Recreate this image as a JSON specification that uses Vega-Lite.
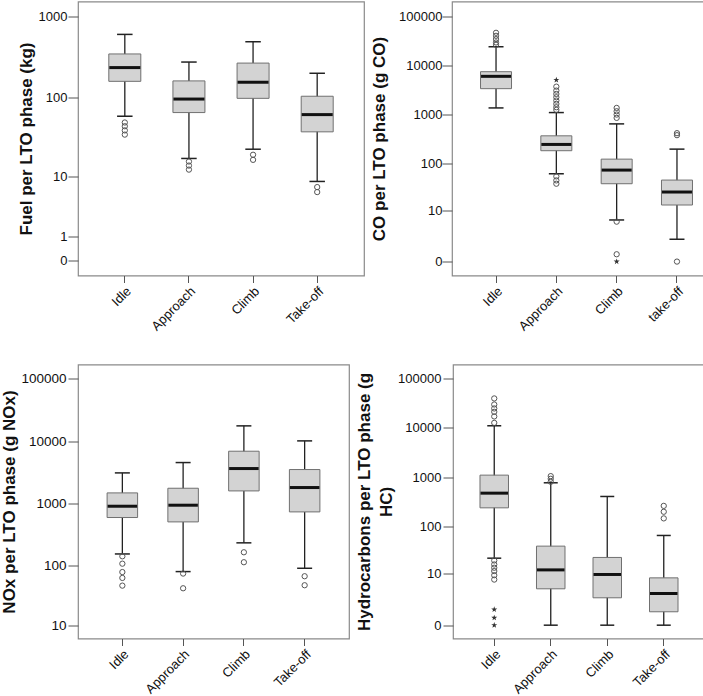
{
  "$schema": "https://vega.github.io/schema/vega-lite/v6.json",
  "padding": {"left": 0, "top": 0.5, "right": 0, "bottom": 0},
  "config": {
    "font": "Liberation Sans",
    "view": {"stroke": "#8a8a8a", "strokeWidth": 1.2},
    "axis": {"labelFontSize": 13, "titleFontSize": 17, "titleFontWeight": "bold", "labelColor": "#111", "titleColor": "#111", "tickColor": "#555", "grid": false, "domain": false},
    "axisY": {"tickSize": 10, "labelPadding": 1, "titlePadding": 3},
    "axisX": {"tickSize": 7, "labelPadding": 2, "labelAngle": -45},
    "tick": {"opacity": 1},
    "point": {"opacity": 1}
  },
  "datasets": {
    "boxes": [
      {"p": "fuel", "phase": "Idle", "lo": 58.7, "q1": 159, "med": 235, "q3": 346, "hi": 602},
      {"p": "fuel", "phase": "Approach", "lo": 17.1, "q1": 65.2, "med": 96, "q3": 161, "hi": 275},
      {"p": "fuel", "phase": "Climb", "lo": 22.5, "q1": 98, "med": 155, "q3": 267, "hi": 489},
      {"p": "fuel", "phase": "Take-off", "lo": 8.45, "q1": 37.4, "med": 61.5, "q3": 104, "hi": 200},
      {"p": "co", "phase": "Idle", "lo": 1345, "q1": 3320, "med": 5920, "q3": 7360, "hi": 23700},
      {"p": "co", "phase": "Approach", "lo": 60.4, "q1": 180, "med": 242, "q3": 363, "hi": 1082},
      {"p": "co", "phase": "Climb", "lo": 6.04, "q1": 37.5, "med": 72, "q3": 121, "hi": 636},
      {"p": "co", "phase": "take-off", "lo": 1.85, "q1": 13.2, "med": 25.1, "q3": 44.7, "hi": 194},
      {"p": "nox", "phase": "Idle", "lo": 155, "q1": 597, "med": 906, "q3": 1482, "hi": 3100},
      {"p": "nox", "phase": "Approach", "lo": 80.4, "q1": 508, "med": 941, "q3": 1760, "hi": 4540},
      {"p": "nox", "phase": "Climb", "lo": 234, "q1": 1595, "med": 3640, "q3": 6900, "hi": 17570},
      {"p": "nox", "phase": "Take-off", "lo": 91, "q1": 735, "med": 1806, "q3": 3510, "hi": 10100},
      {"p": "hc", "phase": "Idle", "lo": 21.8, "q1": 238, "med": 473, "q3": 1098, "hi": 11000},
      {"p": "hc", "phase": "Approach", "lo": 0, "q1": 4.46, "med": 12.2, "q3": 39, "hi": 768},
      {"p": "hc", "phase": "Climb", "lo": 0, "q1": 2.59, "med": 9.66, "q3": 22.6, "hi": 405},
      {"p": "hc", "phase": "Take-off", "lo": 0, "q1": 0.87, "med": 3.39, "q3": 8.1, "hi": 64.8}
    ],
    "outliers": [
      {"p": "fuel", "phase": "Idle", "v": 49, "k": "o"},
      {"p": "fuel", "phase": "Idle", "v": 44, "k": "o"},
      {"p": "fuel", "phase": "Idle", "v": 39, "k": "o"},
      {"p": "fuel", "phase": "Idle", "v": 34.5, "k": "o"},
      {"p": "fuel", "phase": "Approach", "v": 15.6, "k": "o"},
      {"p": "fuel", "phase": "Approach", "v": 13.8, "k": "o"},
      {"p": "fuel", "phase": "Approach", "v": 12.2, "k": "o"},
      {"p": "fuel", "phase": "Climb", "v": 19.1, "k": "o"},
      {"p": "fuel", "phase": "Climb", "v": 16.4, "k": "o"},
      {"p": "fuel", "phase": "Take-off", "v": 7.06, "k": "o"},
      {"p": "fuel", "phase": "Take-off", "v": 6.0, "k": "o"},
      {"p": "co", "phase": "Idle", "v": 26000, "k": "o"},
      {"p": "co", "phase": "Idle", "v": 29000, "k": "o"},
      {"p": "co", "phase": "Idle", "v": 33900, "k": "o"},
      {"p": "co", "phase": "Idle", "v": 39600, "k": "o"},
      {"p": "co", "phase": "Idle", "v": 45600, "k": "o"},
      {"p": "co", "phase": "Approach", "v": 1225, "k": "o"},
      {"p": "co", "phase": "Approach", "v": 1390, "k": "o"},
      {"p": "co", "phase": "Approach", "v": 1625, "k": "o"},
      {"p": "co", "phase": "Approach", "v": 1900, "k": "o"},
      {"p": "co", "phase": "Approach", "v": 2220, "k": "o"},
      {"p": "co", "phase": "Approach", "v": 2590, "k": "o"},
      {"p": "co", "phase": "Approach", "v": 3030, "k": "o"},
      {"p": "co", "phase": "Approach", "v": 3650, "k": "o"},
      {"p": "co", "phase": "Approach", "v": 4990, "k": "e"},
      {"p": "co", "phase": "Approach", "v": 53.3, "k": "o"},
      {"p": "co", "phase": "Approach", "v": 44, "k": "o"},
      {"p": "co", "phase": "Approach", "v": 37.5, "k": "o"},
      {"p": "co", "phase": "Climb", "v": 843, "k": "o"},
      {"p": "co", "phase": "Climb", "v": 985, "k": "o"},
      {"p": "co", "phase": "Climb", "v": 1150, "k": "o"},
      {"p": "co", "phase": "Climb", "v": 1345, "k": "o"},
      {"p": "co", "phase": "Climb", "v": 5.5, "k": "o"},
      {"p": "co", "phase": "Climb", "v": 0.41, "k": "o"},
      {"p": "co", "phase": "Climb", "v": 0, "k": "e"},
      {"p": "co", "phase": "take-off", "v": 374, "k": "o"},
      {"p": "co", "phase": "take-off", "v": 411, "k": "o"},
      {"p": "co", "phase": "take-off", "v": 0, "k": "o"},
      {"p": "nox", "phase": "Idle", "v": 142, "k": "o"},
      {"p": "nox", "phase": "Idle", "v": 108, "k": "o"},
      {"p": "nox", "phase": "Idle", "v": 79, "k": "o"},
      {"p": "nox", "phase": "Idle", "v": 63.4, "k": "o"},
      {"p": "nox", "phase": "Idle", "v": 47.5, "k": "o"},
      {"p": "nox", "phase": "Approach", "v": 74.7, "k": "o"},
      {"p": "nox", "phase": "Approach", "v": 43, "k": "o"},
      {"p": "nox", "phase": "Climb", "v": 165, "k": "o"},
      {"p": "nox", "phase": "Climb", "v": 114, "k": "o"},
      {"p": "nox", "phase": "Take-off", "v": 67.6, "k": "o"},
      {"p": "nox", "phase": "Take-off", "v": 48.2, "k": "o"},
      {"p": "hc", "phase": "Idle", "v": 12600, "k": "o"},
      {"p": "hc", "phase": "Idle", "v": 17000, "k": "o"},
      {"p": "hc", "phase": "Idle", "v": 21100, "k": "o"},
      {"p": "hc", "phase": "Idle", "v": 24700, "k": "o"},
      {"p": "hc", "phase": "Idle", "v": 29700, "k": "o"},
      {"p": "hc", "phase": "Idle", "v": 39400, "k": "o"},
      {"p": "hc", "phase": "Idle", "v": 19.5, "k": "o"},
      {"p": "hc", "phase": "Idle", "v": 16, "k": "o"},
      {"p": "hc", "phase": "Idle", "v": 13.6, "k": "o"},
      {"p": "hc", "phase": "Idle", "v": 11.5, "k": "o"},
      {"p": "hc", "phase": "Idle", "v": 9.3, "k": "o"},
      {"p": "hc", "phase": "Idle", "v": 7.4, "k": "o"},
      {"p": "hc", "phase": "Idle", "v": 1.08, "k": "e"},
      {"p": "hc", "phase": "Idle", "v": 0.41, "k": "e"},
      {"p": "hc", "phase": "Idle", "v": 0, "k": "e"},
      {"p": "hc", "phase": "Approach", "v": 805, "k": "o"},
      {"p": "hc", "phase": "Approach", "v": 926, "k": "o"},
      {"p": "hc", "phase": "Approach", "v": 1048, "k": "o"},
      {"p": "hc", "phase": "Take-off", "v": 145, "k": "o"},
      {"p": "hc", "phase": "Take-off", "v": 198, "k": "o"},
      {"p": "hc", "phase": "Take-off", "v": 261, "k": "o"}
    ]
  },
  "spacing": 29,
  "vconcat": [
    {
      "spacing": 4,
      "hconcat": [
        {
          "width": 286, "height": 274,
          "encoding": {"x": {"field": "phase", "type": "nominal", "sort": ["Idle", "Approach", "Climb", "Take-off"], "title": null, "scale": {"paddingInner": 0, "paddingOuter": 0.23}}},
          "layer": [
            {"data": {"name": "boxes"}, "transform": [{"filter": "datum.p == 'fuel'"}], "mark": {"type": "rule", "color": "#222", "strokeWidth": 1.3},
             "encoding": {"y": {"field": "lo", "type": "quantitative", "scale": {"type": "symlog", "constant": 1, "domain": [-0.51, 1527], "nice": false}, "axis": {"values": [0, 1, 10, 100, 1000], "format": "d", "title": "Fuel per LTO phase (kg)", "titlePadding": 2.8}}, "y2": {"field": "hi"}}},
            {"data": {"name": "boxes"}, "transform": [{"filter": "datum.p == 'fuel'"}], "mark": {"type": "tick", "color": "#222", "size": 15.5, "thickness": 1.5},
             "encoding": {"y": {"field": "lo", "type": "quantitative"}}},
            {"data": {"name": "boxes"}, "transform": [{"filter": "datum.p == 'fuel'"}], "mark": {"type": "tick", "color": "#222", "size": 15.5, "thickness": 1.5},
             "encoding": {"y": {"field": "hi", "type": "quantitative"}}},
            {"data": {"name": "boxes"}, "transform": [{"filter": "datum.p == 'fuel'"}], "mark": {"type": "bar", "size": 32, "fill": "#d3d3d3", "stroke": "#707070", "strokeWidth": 1},
             "encoding": {"y": {"field": "q1", "type": "quantitative"}, "y2": {"field": "q3"}}},
            {"data": {"name": "boxes"}, "transform": [{"filter": "datum.p == 'fuel'"}], "mark": {"type": "tick", "color": "#111", "size": 31, "thickness": 3},
             "encoding": {"y": {"field": "med", "type": "quantitative"}}},
            {"data": {"name": "outliers"}, "transform": [{"filter": "datum.p == 'fuel' && datum.k == 'o'"}], "mark": {"type": "point", "shape": "circle", "filled": false, "size": 28, "color": "#555", "strokeWidth": 1},
             "encoding": {"y": {"field": "v", "type": "quantitative"}}}
          ]
        },
        {
          "width": 269, "height": 274,
          "encoding": {"x": {"field": "phase", "type": "nominal", "sort": ["Idle", "Approach", "Climb", "take-off"], "title": null, "scale": {"paddingInner": 0, "paddingOuter": 0.23}}},
          "layer": [
            {"data": {"name": "boxes"}, "transform": [{"filter": "datum.p == 'co'"}], "mark": {"type": "rule", "color": "#222", "strokeWidth": 1.3},
             "encoding": {"y": {"field": "lo", "type": "quantitative", "scale": {"type": "symlog", "constant": 1, "domain": [-0.92, 197800], "nice": false}, "axis": {"values": [0, 10, 100, 1000, 10000, 100000], "format": "d", "title": "CO per LTO phase (g CO)", "titlePadding": 10.5, "labelPadding": 0}}, "y2": {"field": "hi"}}},
            {"data": {"name": "boxes"}, "transform": [{"filter": "datum.p == 'co'"}], "mark": {"type": "tick", "color": "#222", "size": 15, "thickness": 1.5},
             "encoding": {"y": {"field": "lo", "type": "quantitative"}}},
            {"data": {"name": "boxes"}, "transform": [{"filter": "datum.p == 'co'"}], "mark": {"type": "tick", "color": "#222", "size": 15, "thickness": 1.5},
             "encoding": {"y": {"field": "hi", "type": "quantitative"}}},
            {"data": {"name": "boxes"}, "transform": [{"filter": "datum.p == 'co'"}], "mark": {"type": "bar", "size": 31, "fill": "#d3d3d3", "stroke": "#707070", "strokeWidth": 1},
             "encoding": {"y": {"field": "q1", "type": "quantitative"}, "y2": {"field": "q3"}}},
            {"data": {"name": "boxes"}, "transform": [{"filter": "datum.p == 'co'"}], "mark": {"type": "tick", "color": "#111", "size": 30, "thickness": 3},
             "encoding": {"y": {"field": "med", "type": "quantitative"}}},
            {"data": {"name": "outliers"}, "transform": [{"filter": "datum.p == 'co' && datum.k == 'o'"}], "mark": {"type": "point", "shape": "circle", "filled": false, "size": 28, "color": "#555", "strokeWidth": 1},
             "encoding": {"y": {"field": "v", "type": "quantitative"}}},
            {"data": {"name": "outliers"}, "transform": [{"filter": "datum.p == 'co' && datum.k == 'e'"}], "mark": {"type": "point", "shape": "M0,-1L0.235,-0.324L0.951,-0.309L0.38,0.124L0.588,0.809L0,0.4L-0.588,0.809L-0.38,0.124L-0.951,-0.309L-0.235,-0.324Z", "filled": true, "size": 40, "color": "#333"},
             "encoding": {"y": {"field": "v", "type": "quantitative"}}}
          ]
        }
      ]
    },
    {
      "spacing": 5,
      "hconcat": [
        {
          "width": 271, "height": 274,
          "encoding": {"x": {"field": "phase", "type": "nominal", "sort": ["Idle", "Approach", "Climb", "Take-off"], "title": null, "scale": {"paddingInner": 0, "paddingOuter": 0.23}}},
          "layer": [
            {"data": {"name": "boxes"}, "transform": [{"filter": "datum.p == 'nox'"}], "mark": {"type": "rule", "color": "#222", "strokeWidth": 1.3},
             "encoding": {"y": {"field": "lo", "type": "quantitative", "scale": {"type": "symlog", "constant": 1, "domain": [5.9, 169000], "nice": false}, "axis": {"values": [10, 100, 1000, 10000, 100000], "format": "d", "title": "NOx per LTO phase (g NOx)", "titlePadding": 2, "labelFontSize": 13.5, "labelPadding": 2}}, "y2": {"field": "hi"}}},
            {"data": {"name": "boxes"}, "transform": [{"filter": "datum.p == 'nox'"}], "mark": {"type": "tick", "color": "#222", "size": 15, "thickness": 1.5},
             "encoding": {"y": {"field": "lo", "type": "quantitative"}}},
            {"data": {"name": "boxes"}, "transform": [{"filter": "datum.p == 'nox'"}], "mark": {"type": "tick", "color": "#222", "size": 15, "thickness": 1.5},
             "encoding": {"y": {"field": "hi", "type": "quantitative"}}},
            {"data": {"name": "boxes"}, "transform": [{"filter": "datum.p == 'nox'"}], "mark": {"type": "bar", "size": 30.5, "fill": "#d3d3d3", "stroke": "#707070", "strokeWidth": 1},
             "encoding": {"y": {"field": "q1", "type": "quantitative"}, "y2": {"field": "q3"}}},
            {"data": {"name": "boxes"}, "transform": [{"filter": "datum.p == 'nox'"}], "mark": {"type": "tick", "color": "#111", "size": 29.5, "thickness": 3},
             "encoding": {"y": {"field": "med", "type": "quantitative"}}},
            {"data": {"name": "outliers"}, "transform": [{"filter": "datum.p == 'nox' && datum.k == 'o'"}], "mark": {"type": "point", "shape": "circle", "filled": false, "size": 28, "color": "#555", "strokeWidth": 1},
             "encoding": {"y": {"field": "v", "type": "quantitative"}}}
          ]
        },
        {
          "width": 252, "height": 274,
          "encoding": {"x": {"field": "phase", "type": "nominal", "sort": ["Idle", "Approach", "Climb", "Take-off"], "title": null, "scale": {"paddingInner": 0, "paddingOuter": 0.23}}},
          "layer": [
            {"data": {"name": "boxes"}, "transform": [{"filter": "datum.p == 'hc'"}], "mark": {"type": "rule", "color": "#222", "strokeWidth": 1.3},
             "encoding": {"y": {"field": "lo", "type": "quantitative", "scale": {"type": "symlog", "constant": 1, "domain": [-0.862, 192000], "nice": false}, "axis": {"values": [0, 10, 100, 1000, 10000, 100000], "format": "d", "title": ["Hydrocarbons per LTO phase (g", "HC)"], "titlePadding": 1.8, "titleLineHeight": 22, "labelPadding": 2}}, "y2": {"field": "hi"}}},
            {"data": {"name": "boxes"}, "transform": [{"filter": "datum.p == 'hc'"}], "mark": {"type": "tick", "color": "#222", "size": 14, "thickness": 1.5},
             "encoding": {"y": {"field": "lo", "type": "quantitative"}}},
            {"data": {"name": "boxes"}, "transform": [{"filter": "datum.p == 'hc'"}], "mark": {"type": "tick", "color": "#222", "size": 14, "thickness": 1.5},
             "encoding": {"y": {"field": "hi", "type": "quantitative"}}},
            {"data": {"name": "boxes"}, "transform": [{"filter": "datum.p == 'hc'"}], "mark": {"type": "bar", "size": 28.5, "fill": "#d3d3d3", "stroke": "#707070", "strokeWidth": 1},
             "encoding": {"y": {"field": "q1", "type": "quantitative"}, "y2": {"field": "q3"}}},
            {"data": {"name": "boxes"}, "transform": [{"filter": "datum.p == 'hc'"}], "mark": {"type": "tick", "color": "#111", "size": 27.5, "thickness": 3},
             "encoding": {"y": {"field": "med", "type": "quantitative"}}},
            {"data": {"name": "outliers"}, "transform": [{"filter": "datum.p == 'hc' && datum.k == 'o'"}], "mark": {"type": "point", "shape": "circle", "filled": false, "size": 28, "color": "#555", "strokeWidth": 1},
             "encoding": {"y": {"field": "v", "type": "quantitative"}}},
            {"data": {"name": "outliers"}, "transform": [{"filter": "datum.p == 'hc' && datum.k == 'e'"}], "mark": {"type": "point", "shape": "M0,-1L0.235,-0.324L0.951,-0.309L0.38,0.124L0.588,0.809L0,0.4L-0.588,0.809L-0.38,0.124L-0.951,-0.309L-0.235,-0.324Z", "filled": true, "size": 40, "color": "#333"},
             "encoding": {"y": {"field": "v", "type": "quantitative"}}}
          ]
        }
      ]
    }
  ]
}
